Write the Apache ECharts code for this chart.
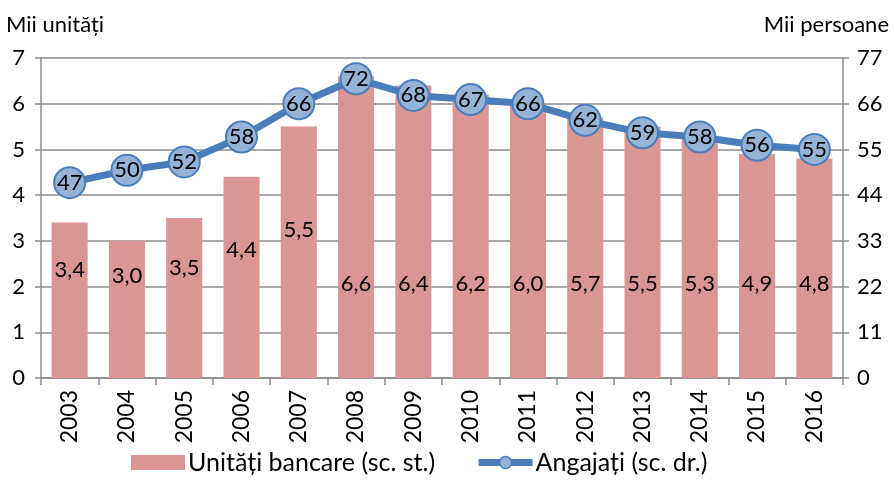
<!DOCTYPE html>
<html>
<head>
<meta charset="utf-8">
<script src="https://cdn.jsdelivr.net/npm/echarts@6/dist/echarts.min.js"></script>
<style>
  html, body { margin: 0; padding: 0; background: #fff; }
  #chart { width: 894px; height: 480px; }
</style>
</head>
<body>
<div id="chart"></div>
<script>
const years = ['2003', '2004', '2005', '2006', '2007', '2008', '2009', '2010', '2011', '2012', '2013', '2014', '2015', '2016'];
const unitati = [3.4, 3.0, 3.5, 4.4, 5.5, 6.6, 6.4, 6.2, 6.0, 5.7, 5.5, 5.3, 4.9, 4.8];
const angajati = [47, 50, 52, 58, 66, 72, 68, 67, 66, 62, 59, 58, 56, 55];

const font = 'Lato, "Open Sans", sans-serif';
const gridColor = '#8c8c8c';

// labels of the first bars sit higher, as in the original
const labelDist = [97, 91, 99, 117, 137];

const chart = echarts.init(document.getElementById('chart'));

chart.setOption({
    animation: false,
    textStyle: { fontFamily: font },
    grid: { left: 41, right: 51, top: 58, bottom: 102 },
    legend: {
        bottom: 0,
        left: 126,
        itemWidth: 54,
        itemHeight: 15,
        itemGap: 40,
        textStyle: { fontSize: 25, color: '#000', fontFamily: font, padding: [0, 0, 0, -2] },
        data: [
            { name: 'Unități bancare (sc. st.)', icon: 'rect' },
            {
                name: 'Angajați (sc. dr.)',
                lineStyle: { width: 7, color: '#4a7ebb' },
                itemStyle: { color: '#95b3d7', borderColor: '#4a7ebb', borderWidth: 1.5 }
            }
        ]
    },
    xAxis: {
        type: 'category',
        data: years,
        axisLine: { lineStyle: { color: gridColor, width: 1.5 } },
        axisTick: { show: true, length: 7, lineStyle: { color: gridColor, width: 1.5 } },
        axisLabel: { rotate: 90, fontSize: 23, color: '#000', margin: 12, fontFamily: font }
    },
    yAxis: [{
        type: 'value',
        name: 'Mii unități',
        nameLocation: 'end',
        nameGap: 22,
        nameTextStyle: { fontSize: 22, color: '#000', align: 'left', padding: [0, 0, 0, -35] },
        min: 0, max: 7, interval: 1,
        axisLine: { show: true, lineStyle: { color: gridColor, width: 1.5 } },
        axisTick: { show: true, length: 6, inside: false, lineStyle: { color: gridColor, width: 1.5 } },
        axisLabel: { fontSize: 22, color: '#000', margin: 16 },
        splitLine: { lineStyle: { color: gridColor, width: 1.5 } }
    }, {
        type: 'value',
        name: 'Mii persoane',
        nameLocation: 'end',
        nameGap: 22,
        nameTextStyle: { fontSize: 22, color: '#000', align: 'right', padding: [0, -46, 0, 0] },
        min: 0, max: 77, interval: 11,
        axisLine: { show: true, lineStyle: { color: gridColor, width: 1.5 } },
        axisTick: { show: true, length: 6, lineStyle: { color: gridColor, width: 1.5 } },
        axisLabel: { fontSize: 22, color: '#000', margin: 14 },
        splitLine: { show: false }
    }],
    series: [{
        name: 'Unități bancare (sc. st.)',
        type: 'bar',
        yAxisIndex: 0,
        barWidth: '63%',
        itemStyle: { color: '#d99694' },
        data: unitati.map((v, i) => ({
            value: v,
            label: {
                show: true,
                position: 'insideBottom',
                distance: i < labelDist.length ? labelDist[i] : 83,
                fontSize: 22,
                color: '#000',
                formatter: p => p.value.toFixed(1).replace('.', ',')
            }
        })),
        z: 2
    }, {
        name: 'Angajați (sc. dr.)',
        type: 'line',
        yAxisIndex: 1,
        symbol: 'circle',
        symbolSize: 31,
        lineStyle: { color: '#4a7ebb', width: 7 },
        itemStyle: { color: '#95b3d7', borderColor: '#4a7ebb', borderWidth: 2 },
        label: {
            show: true,
            position: 'inside',
            fontSize: 22,
            color: '#000'
        },
        data: angajati,
        z: 3
    }]
});
</script>
</body>
</html>
